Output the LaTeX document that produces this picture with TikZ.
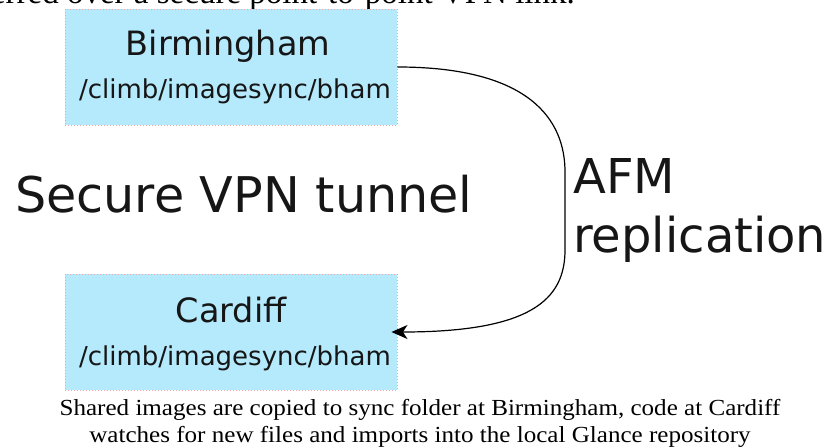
\documentclass[tikz,border=0pt]{standalone}
\usepackage{fontspec}
\setmainfont{Liberation Serif}
\newfontfamily\dvs{DejaVu Sans}
\usetikzlibrary{arrows.meta}
\definecolor{boxfill}{RGB}{181,233,252}
\definecolor{boxline}{RGB}{242,165,165}
\definecolor{ink}{RGB}{22,22,22}
\begin{document}
\begin{tikzpicture}[x=1pt,y=-1pt,
  site/.style={draw=boxline, dash pattern=on 1.3pt off 1.7pt, line width=0.9pt, fill=boxfill,
    minimum width=332pt, minimum height=116pt, inner sep=0pt},
  sitename/.style={font=\dvs\fontsize{33.5}{40}\selectfont, anchor=base, inner sep=0pt, text=ink},
  sitepath/.style={font=\dvs\fontsize{26}{31}\selectfont, anchor=base, inner sep=0pt, text=ink},
  biglabel/.style={font=\dvs\fontsize{48}{58}\selectfont, anchor=base west, inner sep=0pt, text=ink},
  caption/.style={font=\fontsize{23}{27}\selectfont, anchor=base, inner sep=0pt, text=black},
  flow/.style={line width=1.2pt, -{Stealth[length=16pt,width=14pt,inset=4.5pt]}}
]
\useasboundingbox (0,0) rectangle (826,447);
\clip (0,0) rectangle (826,447);
\fill[white] (0,0) rectangle (826,447);

% clipped running text at the top
\node[font=\fontsize{33}{40}\selectfont, anchor=base east, inner sep=0pt] (toptext) at (575,4)
  {transferred over a secure point-to-point VPN link.};

% sites
\node[site] (bham) at (231,67) {};
\node[sitename] (bhamname) at (228,55) {Birmingham};
\node[sitepath] (bhampath) at (235,98) {/climb/imagesync/bham};

\node[site] (card) at (231,332) {};
\node[sitename] (cardname) at (231,322) {Cardiff};
\node[sitepath] (cardpath) at (235,365) {/climb/imagesync/bham};

% labels
\node[biglabel, font=\dvs\fontsize{49.2}{60}\selectfont] (vpn) at (15,212) {Secure VPN tunnel};
\node[biglabel] (afm) at (573,193) {AFM};
\node[biglabel] (repl) at (573,252) {replication};

% replication arrow
\draw[flow, shorten >=-6pt] (bham.east) .. controls (530,67) and (565,120) .. (565,172)
  -- (565,250) .. controls (565,300) and (530,332) .. (card.east);

% caption
\node[caption] (cap1) at (420,415) {\scalebox{1.09}[1]{Shared images are copied to sync folder at Birmingham, code at Cardiff}};
\node[caption] (cap2) at (420,442) {\scalebox{1.09}[1]{watches for new files and imports into the local Glance repository}};
\end{tikzpicture}
\end{document}
